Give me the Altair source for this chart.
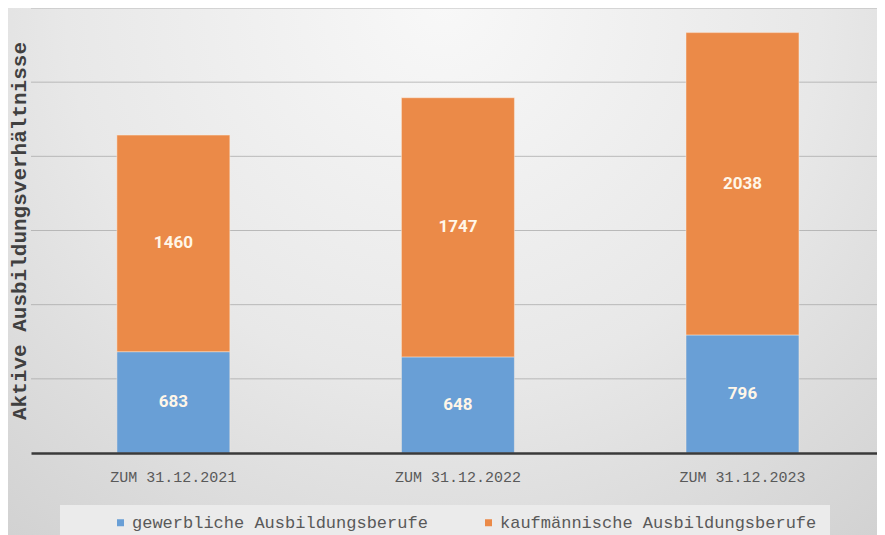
import altair as alt
import pandas as pd

dates = ["ZUM 31.12.2021", "ZUM 31.12.2022", "ZUM 31.12.2023"]
series_names = ["gewerbliche Ausbildungsberufe", "kaufmännische Ausbildungsberufe"]
gewerblich = [683, 648, 796]
kaufmaennisch = [1460, 1747, 2038]
grid_values = [500, 1000, 1500, 2000, 2500, 3000]
y_title = "Aktive Ausbildungsverhältnisse"

BLUE = "#699fd6"
ORANGE = "#eb8a48"

rows = []
for i, d in enumerate(dates):
    rows.append({"date": d, "series": series_names[0], "value": gewerblich[i], "order": 0})
    rows.append({"date": d, "series": series_names[1], "value": kaufmaennisch[i], "order": 1})
df = pd.DataFrame(rows)
grid_df = pd.DataFrame({"v": grid_values})
one = pd.DataFrame({"a": [0]})

W, H = 846, 445

bg = alt.Chart(one).mark_rect(
    fill={
        "gradient": "radial",
        "x1": 0.5, "y1": 0.2, "r1": 0,
        "x2": 0.5, "y2": 0.2, "r2": 0.85,
        "stops": [
            {"offset": 0, "color": "#f8f8f8"},
            {"offset": 0.5, "color": "#e8e8e8"},
            {"offset": 1, "color": "#cdcdcd"},
        ],
    }
).encode(
    x=alt.value(-31), x2=alt.value(W + 10), y=alt.value(-10), y2=alt.value(H + 90)
)

legend_box = alt.Chart(one).mark_rect(fill="#ebebeb").encode(
    x=alt.value(29), x2=alt.value(799), y=alt.value(497), y2=alt.value(530)
)

grid = alt.Chart(grid_df).mark_rule(color="#a8a8a8", strokeWidth=1, opacity=0.75).encode(
    y=alt.Y("v:Q", scale=alt.Scale(domain=[0, 3000]), title=y_title)
)

x_enc = alt.X(
    "date:N",
    sort=dates,
    scale=alt.Scale(paddingInner=0.603, paddingOuter=0.288, align=0.524),
    axis=alt.Axis(
        title=None, labelAngle=0, ticks=False, domainColor="#3a3a3a", domainWidth=2.5,
        labelFont="Liberation Mono", labelFontSize=15, labelColor="#595959",
        labelPadding=16, zindex=1,
    ),
)

bars = alt.Chart(df).mark_bar(stroke="#fbeee2", strokeWidth=0.8, strokeOpacity=0.6).encode(
    x=x_enc,
    y=alt.Y(
        "value:Q", stack="zero",
        scale=alt.Scale(domain=[0, 3000]),
        axis=alt.Axis(
            title=y_title, labels=False, ticks=False, domain=False, grid=False,
            titleFont="Liberation Mono", titleFontSize=21, titleFontWeight="bold",
            titleColor="#404040", titleBaseline="alphabetic", titlePadding=6, zindex=1,
        ),
    ),
    color=alt.Color(
        "series:N",
        scale=alt.Scale(domain=series_names, range=[BLUE, ORANGE]),
        legend=alt.Legend(
            title=None, orient="none", direction="horizontal",
            legendX=81, legendY=506, symbolType="square", symbolSize=49,
            symbolStrokeWidth=0, labelFont="Liberation Mono", labelFontSize=17,
            labelColor="#595959", labelOffset=3, columnPadding=52, labelLimit=500,
            padding=0,
        ),
    ),
    order=alt.Order("order:Q"),
)

labels = alt.Chart(df).transform_stack(
    stack="value", groupby=["date"], as_=["y0", "y1"],
    sort=[alt.SortField("order", order="ascending")],
).transform_calculate(
    mid="(datum.y0 + datum.y1) / 2"
).mark_text(
    font="Roboto", fontSize=17, fontWeight="bold", color="#fff6e8",
    baseline="middle", align="center",
).encode(
    x=alt.X("date:N", sort=dates),
    y=alt.Y("mid:Q", title=y_title),
    text=alt.Text("value:Q"),
)

chart = alt.layer(bg, legend_box, grid, bars, labels).properties(
    width=W, height=H,
    padding={"left": 23, "top": 0, "right": 0, "bottom": 82},
    autosize=alt.AutoSizeParams(type="none"),
    background="#d9d9d9",
).configure_view(stroke=None)

chart.save("out.html", embed_options={"renderer": "svg", "actions": False})
